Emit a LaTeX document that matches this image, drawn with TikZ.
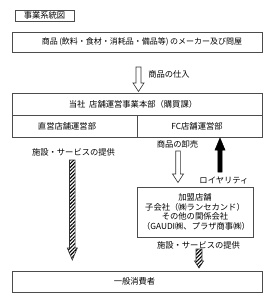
\documentclass[tikz,border=0pt]{standalone}
\usepackage{fontspec}
\setmainfont{Noto Sans CJK JP}
\usetikzlibrary{patterns.meta}
\newcommand\vArrow[7]{% style, x, ytail, ybase, ytip, shaft half, head half
  \draw[#1] ({#2-#6},#3) -- ({#2+#6},#3) -- ({#2+#6},#4) -- ({#2+#7},#4) -- (#2,#5) -- ({#2-#7},#4) -- ({#2-#6},#4) -- cycle;}
\tikzset{
  box/.style={draw=black!70, line width=0.7pt},
  txt/.style={font=\fontsize{8.3}{10}\selectfont, inner sep=0pt},
  lbl/.style={font=\fontsize{8.3}{10}\selectfont, inner sep=0pt},
  hollow/.style={draw=black!80, line width=0.6pt, fill=white},
  solid/.style={draw=black, line width=0.5pt, fill=black},
  hatched/.style={draw=black!80, line width=0.6pt, pattern={Lines[angle=45,distance=2.6pt,line width=1.1pt]}},
}
\begin{document}
\begin{tikzpicture}[x=1pt,y=-1pt]
\useasboundingbox[fill=white] (0,0) rectangle (272,300);
% title
\draw[box] (15,10) rectangle (74,21);
\node[txt] (title) at (44.5,15.5) {事業系統図};
% maker box
\draw[box] (12,32) rectangle (262,52);
\node[txt, font=\fontsize{8}{10}\selectfont] (maker) at (142,42) {商品\,(飲料・食材・消耗品・備品等)\,のメーカー及び問屋};
% arrow purchase
\vArrow{hollow}{138.5}{67}{83}{91.5}{2.5}{5.5}
\node[lbl] (shiire) at (169,74) {商品の仕入};
% main box
\draw[box] (12,93) rectangle (262,137);
\draw[box] (12,115) -- (262,115);
\draw[box] (137,115) -- (137,137);
\node[txt] (hq) at (133,104.5) {当社\ \ 店舗運営事業本部（購買課）};
\node[txt] (direct) at (67,126.5) {直営店舗運営部};
\node[txt] (fc) at (197,126.5) {FC店舗運営部};
% left label and hatched arrow
\node[lbl] (svc1) at (73.5,152.5) {施設・サービスの提供};
\vArrow{hatched}{72.3}{160}{248}{260}{2.8}{5}
% wholesale
\node[lbl] (oroshi) at (177.5,144.5) {商品の卸売};
\vArrow{hollow}{178}{151}{174}{182.5}{2.3}{5.5}
% royalty
\vArrow{solid}{220}{172}{150}{138}{2.2}{5}
\node[lbl] (royalty) at (224,180.5) {ロイヤリティ};
% franchise box
\draw[box] (137,187) rectangle (253,237);
\node[txt] (f1) at (195,197) {加盟店舗};
\node[txt] (f2) at (195,207) {子会社（㈱ランセカンド）};
\node[txt] (f3) at (195,216.5) {その他の関係会社};
\node[txt] (f4) at (196,226.5) {（GAUDI㈱、プラザ商事㈱）};
% right label and hatched arrow
\node[lbl] (svc2) at (198.5,245.5) {施設・サービスの提供};
\vArrow{hatched}{199}{249}{261}{268}{3}{4.5}
% consumer box
\draw[box] (12,271) rectangle (262,292);
\node[txt] (cons) at (134.5,281.5) {一般消費者};
\end{tikzpicture}
\end{document}
